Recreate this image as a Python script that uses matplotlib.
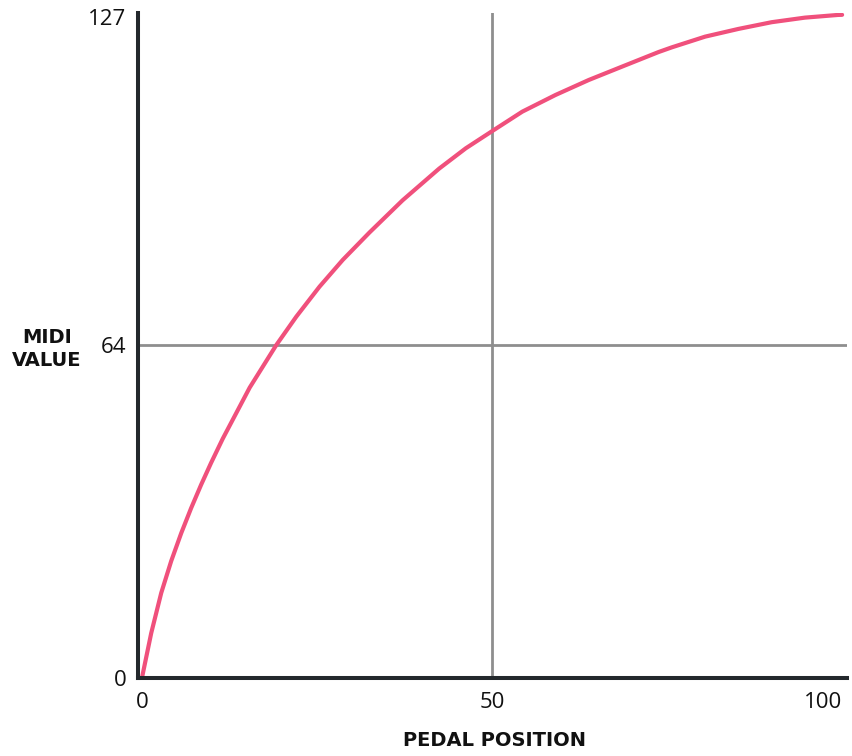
import matplotlib
matplotlib.use("Agg")
import matplotlib.pyplot as plt

pedal_position = [0, 0.14, 1.32, 2.75, 4.17, 5.60, 7.02, 8.45, 9.87, 11.54,
                  15.38, 19.19, 22.04, 25.36, 28.67, 32.48, 37.22, 42.45, 46.25,
                  49.90, 54.32, 59.07, 63.82, 68.56, 73.79, 75.68, 80.44, 85.19,
                  89.93, 94.69, 99.43, 100]
midi_value = [0, 0.96, 8.63, 16.35, 22.46, 27.82, 32.65, 37.15, 41.34, 46.0,
              55.8, 64.00, 69.44, 75.21, 80.34, 85.6, 91.8, 97.9, 101.8,
              105.00, 108.84, 112.05, 114.93, 117.49, 120.3, 121.2, 123.26, 124.74,
              126.03, 126.91, 127.43, 127.45]
x_ticks = [0, 50, 100]
y_ticks = [0, 64, 127]
x_label = "PEDAL POSITION"
y_label = "MIDI\nVALUE"

fig = plt.figure(figsize=(8.52, 7.56), dpi=100)
ax = fig.add_axes([137.5 / 852, 78 / 756, 709.5 / 852, 665 / 756])
ax.set_xlim(-0.64, 100.7)
ax.set_ylim(0, 127.8)

# reference lines
ax.axvline(50, color="#8e8e8e", lw=2.0, zorder=1)
ax.axhline(64, color="#8e8e8e", lw=2.0, zorder=1)

ax.plot(pedal_position, midi_value, color="#f0507c", lw=3.0,
        solid_capstyle="round", solid_joinstyle="round", zorder=3)

for s in ["top", "right"]:
    ax.spines[s].set_visible(False)
for s in ["left", "bottom"]:
    ax.spines[s].set_linewidth(2.9)
    ax.spines[s].set_color("#23282c")
    ax.spines[s].set_zorder(4)

ax.set_xticks(x_ticks)
ax.set_yticks(y_ticks)
ax.set_xticklabels([str(v) for v in x_ticks], fontsize=16, family="Open Sans")
ax.set_yticklabels([str(v) for v in y_ticks], fontsize=16, family="Open Sans")
ax.tick_params(axis="both", length=0, colors="#111111")
ax.tick_params(axis="x", pad=10)
ax.tick_params(axis="y", pad=8)
ax.get_xticklabels()[-1].set_horizontalalignment("right")
ax.get_xticklabels()[-1].set_x(100.7)
for lab in ax.get_yticklabels():
    lab.set_verticalalignment("center_baseline")

fig.text(494 / 852, 1 - 741 / 756, x_label, ha="center", va="center",
         fontsize=14, fontweight="bold", family="DejaVu Sans", color="#111111")
fig.text(47 / 852, 1 - 349 / 756, y_label, ha="center", va="center",
         fontsize=14, fontweight="bold", family="DejaVu Sans", color="#111111",
         linespacing=1.3)

fig.savefig("out.png", dpi=100)
